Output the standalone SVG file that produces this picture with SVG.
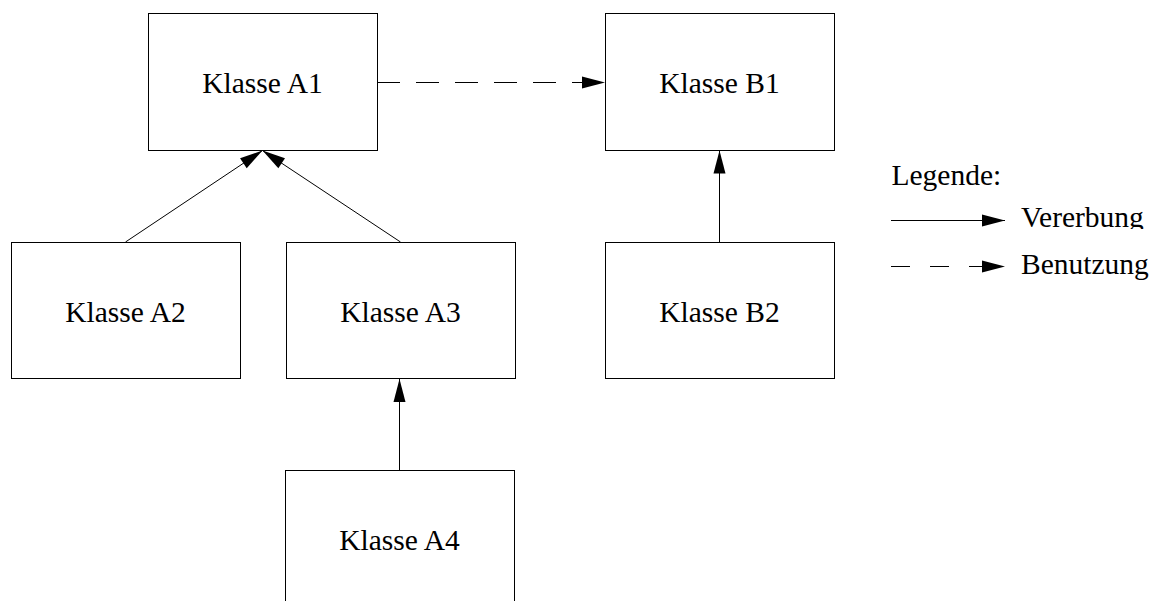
<svg xmlns="http://www.w3.org/2000/svg" width="1157" height="601" viewBox="0 0 1157 601">
  <style>
    .box { fill: #fff; stroke: #000; stroke-width: 1; }
    .lbl { font-family: "Liberation Serif", "Times New Roman", serif; font-size: 29.5px; fill: #000; }
    .mid { text-anchor: middle; }
    .edge { fill: none; stroke: #000; stroke-width: 1; }
    .dash { stroke-dasharray: 23 16; }
  </style>
  <defs>
    <marker id="head" markerUnits="userSpaceOnUse" markerWidth="24" markerHeight="12" refX="23" refY="6" orient="auto" overflow="visible">
      <path d="M0,0 L23,6 L0,12 Z" fill="#000"/>
    </marker>
    <clipPath id="clipVererbung">
      <rect x="1000" y="190" width="157" height="39"/>
    </clipPath>
  </defs>
  <rect width="1157" height="601" fill="#fff"/>

  <g id="connectors">
    <!-- inheritance -->
    <line class="edge" x1="125.5" y1="242" x2="262.5" y2="150.5" marker-end="url(#head)"/>
    <line class="edge" x1="400.5" y1="242" x2="262.5" y2="150.5" marker-end="url(#head)"/>
    <line class="edge" x1="399.5" y1="470" x2="399.5" y2="379" marker-end="url(#head)"/>
    <line class="edge" x1="719.5" y1="242" x2="719.5" y2="150.5" marker-end="url(#head)"/>
    <!-- usage -->
    <line class="edge dash" x1="377" y1="82.5" x2="605" y2="82.5" marker-end="url(#head)"/>
  </g>

  <g id="classA1">
    <rect class="box" x="148.5" y="13.5" width="229" height="137"/>
    <text class="lbl mid" x="262.5" y="93">Klasse A1</text>
  </g>
  <g id="classB1">
    <rect class="box" x="605.5" y="13.5" width="229" height="137"/>
    <text class="lbl mid" x="719.5" y="93">Klasse B1</text>
  </g>
  <g id="classA2">
    <rect class="box" x="11.5" y="242.5" width="229" height="136"/>
    <text class="lbl mid" x="125.5" y="321.5">Klasse A2</text>
  </g>
  <g id="classA3">
    <rect class="box" x="286.5" y="242.5" width="229" height="136"/>
    <text class="lbl mid" x="400.5" y="321.5">Klasse A3</text>
  </g>
  <g id="classB2">
    <rect class="box" x="605.5" y="242.5" width="229" height="136"/>
    <text class="lbl mid" x="719.5" y="321.5">Klasse B2</text>
  </g>
  <g id="classA4">
    <rect class="box" x="285.5" y="470.5" width="229" height="137"/>
    <text class="lbl mid" x="399.5" y="550">Klasse A4</text>
  </g>

  <g id="legend">
    <text class="lbl" x="891.5" y="185">Legende:</text>
    <line class="edge" x1="891" y1="220.5" x2="1005" y2="220.5" marker-end="url(#head)"/>
    <text class="lbl" x="1021" y="227" clip-path="url(#clipVererbung)">Vererbung</text>
    <line class="edge" x1="891" y1="266.5" x2="1005" y2="266.5" stroke-dasharray="19 20" marker-end="url(#head)"/>
    <text class="lbl" x="1021" y="274">Benutzung</text>
  </g>
</svg>
